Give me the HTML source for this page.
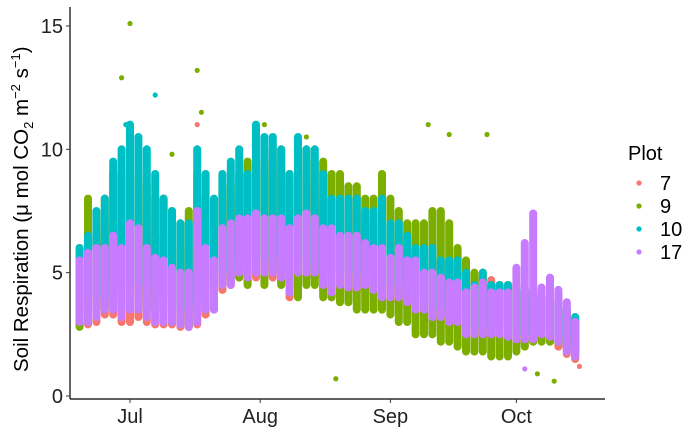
<!DOCTYPE html>
<html><head><meta charset="utf-8"><style>
body{margin:0;background:#fff;}
svg{display:block;font-family:"Liberation Sans",Arial,sans-serif;}
</style></head><body>
<svg id="chart" width="700" height="432" viewBox="0 0 700 432">
<g id="marks"></g>
<g id="axes"></g>
<g id="legend"></g>
<text transform="translate(28,372) rotate(-90)" font-size="20.5" fill="#000">Soil Respiration (μ mol CO<tspan font-size="13" dy="5">2</tspan><tspan dy="-5"> m</tspan><tspan font-size="13" dy="-8">−2</tspan><tspan dy="8"> s</tspan><tspan font-size="13" dy="-8">−1</tspan><tspan dy="8">)</tspan></text>
</svg>
<script>
// 2-day bins starting Jun 18 (bin i covers days 2i..2i+1)
const plots = ["7","9","10","17"];
const colors = ["#F8766D","#7CAE00","#00BFC4","#C77CFF"];
const yTicks = [0,5,10,15];
const monthLabels = ["Jul","Aug","Sep","Oct"];
const monthDays = [13,44,75,105];
const redLo=[2.9,2.9,3,3.3,3.3,3,3,3.2,3,2.9,2.9,2.9,2.8,2.8,2.9,3.3,3.5,4.3,4.5,4.8,4.6,4.8,4.8,4.8,4.6,4,4.8,4.8,4.8,4.3,4,4.3,4.2,4.2,4.3,4.1,3.8,3.8,3.8,3.6,3.3,3.3,3,3,2.8,2.8,2.4,2.4,2.4,2.4,2.3,2.2,2.2,2.1,2.2,2.3,2.2,2,1.7,1.5];
const redHi=[6,6,6.5,7,7,7,7.5,7.5,7,6.5,6.5,6,6,6,8,7,7,8,8,9,9,9,9.5,10,10,9,9,9,8.5,8,8,7.5,7.5,7.5,7,7,6.8,6.5,6.5,6,6,5.5,5.5,5.5,5.5,5,5,4.8,4.8,4.7,4.5,4.5,4.5,4.3,4.3,4,4,3.8,3.5,3.2];
const greenLo=[2.8,3,3.5,3.5,4,3.5,4,4,3.5,3.5,3.5,3,3,2.8,3.5,3.5,4,4.5,4.8,4.8,4.5,5,4.5,5,4.5,4.5,4,4.5,4.5,4,4,3.8,3.8,3.5,3.5,3.5,3.5,3.3,3,3,2.5,2.5,2.5,2.2,2.2,2,1.8,1.8,1.8,1.6,1.6,1.6,1.8,2,2.2,2.2,2.2,2.2,1.9,1.6];
const greenHi=[5.5,8,6.5,8,9,9,9,9,8.5,8,8,7.5,7,7.5,9,8,7,8.5,8.5,9,9.5,9.5,9,9.5,9,8.5,10,10,9.5,9.5,9,9,8.5,8.5,8,8,9,8,7.5,7,7,7,7.5,7.5,7,6,5.5,5,5,4.5,4.5,4.5,4.5,4,4,4,4,4,3.5,3];
const tealLo=[3.5,3.5,4,4,4.5,4.5,5,4.5,4.5,4,4,3.5,3.5,3.5,4,4.5,4.5,5,5,5.5,5.5,5.5,5.5,5.5,5,5,5.5,5.5,5,5,5,5,5,5,5,4.5,4.5,4.5,4.5,4.3,4,4,3.5,3.5,3.3,3.2,3,2.8,2.8,2.8,2.8,2.6,2.5,2.5,2.5,2.6,2.5,2.4,2,1.8];
const tealHi=[6,6.5,7.5,8,9.5,10,11,10.5,10,9,8,7.5,7,7,10,9,8,9,9.5,10,9,11,10.5,10.5,10,9,10.5,10,10,9,8,8,8,8,7.5,7.5,8,7,7,6.5,6,6,6,5.5,5.5,5.5,5,4.5,5,4.5,4.5,4.5,4.5,4.3,4.3,4,4,3.8,3.5,3.2];
const purpleLo=[3,3,3.2,3.5,3.5,3.2,3.5,3.5,3.2,3,3,3,2.9,2.8,3,3.5,3.5,4.5,4.5,5,4.8,5,5,5,4.8,4.2,5,5,5,4.5,4.2,4.5,4.4,4.4,4.5,4.3,4,4,4,3.8,3.5,3.5,3.2,3.2,3,3,2.5,2.5,2.5,2.5,2.5,2.4,2.3,2.3,2.3,2.5,2.4,2.2,1.8,1.6];
const purpleHi=[5.5,5.8,6,6,6.5,6,7,6.8,6,5.6,5.5,5.2,5,5,7.5,6,5.5,6.8,7,7.2,7.2,7.4,7.2,7.2,7.2,6.8,7.2,7.4,7.2,6.8,6.8,6.5,6.5,6.5,6.2,6,6,5.6,6,5.5,5.5,5,5,4.8,4.6,4.6,4.2,4.4,4.6,4.2,4.2,4.2,5.2,6.2,7.4,4.4,4.8,4.3,3.8,3];
const outDay=[13,11,29,29,19,12,84,89,98,62,114,110,30,107,120,23,45,55];
const outVal=[15.1,12.9,13.2,11,12.2,11,11,10.6,10.6,0.7,0.6,0.9,11.5,1.1,1.2,9.8,11,10.5];
const outPlot=[1,1,1,0,2,2,1,1,1,1,1,1,1,3,0,1,1,1];

const lows=[redLo,greenLo,tealLo,purpleLo], highs=[redHi,greenHi,tealHi,purpleHi];
const NS="http://www.w3.org/2000/svg";
const X0=70,X1=605,Y0=399;
const xs=d=>130+(d-13)*4.2;
const ys=v=>396-v*24.67;
const marks=document.getElementById('marks'),axes=document.getElementById('axes'),legend=document.getElementById('legend');
function mk(t,a,p){const e=document.createElementNS(NS,t);for(const k in a)e.setAttribute(k,a[k]);p.appendChild(e);return e;}
for(let p=0;p<4;p++){
  const lo=lows[p],hi=highs[p];
  for(let i=0;i<lo.length;i++){
    const x=xs(2*i+1);
    const l=mk('line',{x1:x,x2:x,y1:ys(lo[i]),y2:ys(hi[i]),stroke:colors[p],'stroke-width':8,'stroke-linecap':'round'},marks);
    
    
  }
}
for(let i=0;i<outDay.length;i++){
  const c=mk('circle',{cx:xs(outDay[i]),cy:ys(outVal[i]),r:2.6,fill:colors[outPlot[i]]},marks);
  
  
}
mk('line',{x1:X0,x2:X0,y1:7,y2:Y0,stroke:'#000','stroke-width':1.2},axes);
mk('line',{x1:X0,x2:X1,y1:Y0,y2:Y0,stroke:'#000','stroke-width':1.2},axes);
yTicks.forEach(v=>{
  mk('line',{x1:X0-4,x2:X0,y1:ys(v),y2:ys(v),stroke:'#333'},axes);
  const t=mk('text',{x:X0-7,y:ys(v)+7,'text-anchor':'end','font-size':20,fill:'#222'},axes);
  t.textContent=v;
  
  
});
monthLabels.forEach((m,i)=>{
  const x=xs(monthDays[i]);
  mk('line',{x1:x,x2:x,y1:Y0,y2:Y0+4,stroke:'#333'},axes);
  const t=mk('text',{x:x,y:423,'text-anchor':'middle','font-size':20,fill:'#222'},axes);
  t.textContent=m;
  
  
});
const lt=mk('text',{x:628,y:160,'font-size':20,fill:'#000'},legend);
lt.textContent='Plot';


plots.forEach((p,i)=>{
  const y=183+i*23;
  const c=mk('circle',{cx:639,cy:y,r:2.6,fill:colors[i]},legend);
  
  
  const t=mk('text',{x:660,y:y+7,'font-size':20,fill:'#000'},legend);
  t.textContent=p;
  
  
});
</script>
</body></html>
